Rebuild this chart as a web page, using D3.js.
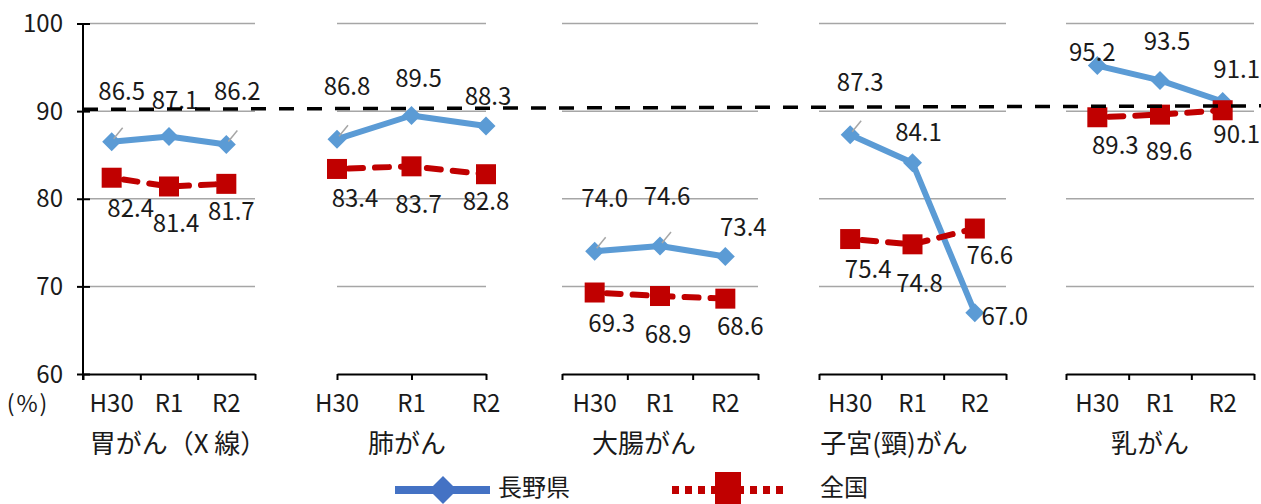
<!DOCTYPE html>
<html lang="ja">
<head>
<meta charset="utf-8">
<script src="https://cdn.jsdelivr.net/npm/d3@7"></script>
<style>
  html, body { margin: 0; padding: 0; background: #fff; }
  svg { display: block; }
  text { font-family: "Noto Sans CJK JP", "Noto Sans", sans-serif; fill: #1a1a1a; }
</style>
</head>
<body>
<svg id="chart" width="1261" height="504"></svg>
<script>
// 受診率（%）: 年度別・がん種別
const years = ["H30", "R1", "R2"];
const cancers = ["胃がん（X 線）", "肺がん", "大腸がん", "子宮(頸)がん", "乳がん"];
const seriesNames = ["長野県", "全国"];
const nagano = [
  [86.5, 87.1, 86.2],
  [86.8, 89.5, 88.3],
  [74.0, 74.6, 73.4],
  [87.3, 84.1, 67.0],
  [95.2, 93.5, 91.1]
];
const national = [
  [82.4, 81.4, 81.7],
  [83.4, 83.7, 82.8],
  [69.3, 68.9, 68.6],
  [75.4, 74.8, 76.6],
  [89.3, 89.6, 90.1]
];
const yTicks = [60, 70, 80, 90, 100];
const gridValues = [70, 80, 90, 100];
// 目標ライン（左端・右端の値）
const targetLine = [90.2, 90.6];

// ---- layout ----
const W = 1261;
const yAxisX = 83;
const panelSpans = [[83, 255], [337, 486], [562, 758], [819, 1006], [1066, 1254]];
const panelOnTicks = [false, true, false, false, false];
const gridStarts = [90, 337, 562, 819, 1066];
const titleX = [178, 407, 644, 894, 1150];
const titleBaseline = 453;
const catBaseline = 412;
// data label offsets from each marker: [dx, baseline dy]
const naganoLabelOffsets = [
  [[10, -42], [6, -28], [11, -44]],
  [[10, -44], [7, -29], [2, -21]],
  [[10, -44], [7, -41], [18, -21]],
  [[10, -44], [6, -22], [30, 12]],
  [[-5, -5], [7, -30], [14, -23]]
];
const nationalLabelOffsets = [
  [[19, 39], [7, 46], [5, 36]],
  [[18, 38], [7, 47], [0, 36]],
  [[17, 39], [8, 47], [15, 36]],
  [[18, 39], [7, 48], [15, 35]],
  [[18, 37], [9, 45], [14, 33]]
];
const naganoLeaders = [
  [true, false, true],
  [true, false, false],
  [true, true, false],
  [true, false, false],
  [false, false, false]
];

const BLUE = "#5B9BD5";
const BLUE_LEGEND = "#4472C4";
const RED = "#C00000";
const GRID = "#A6A6A6";

const svg = d3.select("#chart");

const y = d3.scaleLinear().domain([60, 100]).range([374, 23.5]);

const gGrid = svg.append("g");
const gAxes = svg.append("g");
const gSeries = svg.append("g");
const gLabels = svg.append("g");
const gTop = svg.append("g");

// ---- Y axis ----
const yAxis = d3.axisLeft(y).tickValues(yTicks).tickSizeInner(6).tickSizeOuter(0).tickPadding(14);
const ya = gAxes.append("g").attr("transform", `translate(${yAxisX},0)`).call(yAxis);
ya.select(".domain").attr("stroke", "#000").attr("stroke-width", 2).attr("d", `M0,${y(100)}V${y(60) + 6}`);
ya.selectAll(".tick line").attr("stroke", "#000").attr("stroke-width", 2).attr("x1", -6).attr("x2", 7);
ya.selectAll(".tick text").attr("font-size", 24).attr("fill", "#1a1a1a")
  .attr("font-family", '"Noto Sans CJK JP", sans-serif').attr("dy", "0.34em");

svg.append("text").attr("x", 28).attr("y", catBaseline).attr("text-anchor", "middle")
  .attr("font-size", 23).attr("letter-spacing", 2).text("(%)");

// ---- panels ----
const lineGen = d3.line();

cancers.forEach((name, p) => {
  const [x0, x1] = panelSpans[p];
  let xPos, tickScale, tickVals;
  if (panelOnTicks[p]) {
    const xs = d3.scalePoint().domain(years).range([x0, x1]);
    xPos = d => xs(d);
    tickScale = xs;
    tickVals = years;
  } else {
    const xs = d3.scaleBand().domain(years).range([x0, x1]).padding(0);
    xPos = d => xs(d) + xs.bandwidth() / 2;
    tickScale = d3.scaleLinear().domain([0, years.length]).range([x0, x1]);
    tickVals = d3.range(years.length + 1);
  }

  // gridlines
  gGrid.selectAll(null).data(gridValues).join("line")
    .attr("x1", gridStarts[p]).attr("x2", x1)
    .attr("y1", d => y(d)).attr("y2", d => y(d))
    .attr("stroke", GRID).attr("stroke-width", 1.5);

  // category axis
  const xAxis = d3.axisBottom(tickScale).tickValues(tickVals).tickFormat("").tickSizeInner(6).tickSizeOuter(0);
  const xa = gAxes.append("g").attr("transform", `translate(0,${y(60)})`).call(xAxis);
  xa.select(".domain").attr("stroke", "#000").attr("stroke-width", 2);
  xa.selectAll(".tick line").attr("stroke", "#000").attr("stroke-width", 2);

  gAxes.selectAll(null).data(years).join("text")
    .attr("x", d => xPos(d)).attr("y", catBaseline)
    .attr("text-anchor", "middle").attr("font-size", 24).text(d => d);

  gAxes.append("text").attr("x", titleX[p]).attr("y", titleBaseline)
    .attr("text-anchor", "middle").attr("font-size", 26).text(name);

  // 長野県
  const ptsN = years.map((yr, i) => [xPos(yr), y(nagano[p][i])]);
  gSeries.append("path").attr("d", lineGen(ptsN)).attr("fill", "none")
    .attr("stroke", BLUE).attr("stroke-width", 6).attr("stroke-linejoin", "round");
  gSeries.selectAll(null).data(ptsN).join("path")
    .attr("d", d => `M${d[0]},${d[1] - 9.5}L${d[0] + 9.5},${d[1]}L${d[0]},${d[1] + 9.5}L${d[0] - 9.5},${d[1]}Z`)
    .attr("fill", BLUE);
  ptsN.forEach((pt, i) => {
    if (naganoLeaders[p][i]) {
      gSeries.append("line").attr("x1", pt[0] + 2).attr("y1", pt[1] - 3)
        .attr("x2", pt[0] + 11).attr("y2", pt[1] - 14)
        .attr("stroke", GRID).attr("stroke-width", 1.5);
    }
  });

  // 全国
  const ptsA = years.map((yr, i) => [xPos(yr), y(national[p][i])]);
  gSeries.append("path").attr("d", lineGen(ptsA)).attr("fill", "none")
    .attr("stroke", RED).attr("stroke-width", 6).attr("stroke-linecap", "round")
    .attr("stroke-dasharray", "14,12").attr("stroke-dashoffset", -12);
  gSeries.selectAll(null).data(ptsA).join("rect")
    .attr("x", d => d[0] - 10).attr("y", d => d[1] - 10)
    .attr("width", 20).attr("height", 20).attr("fill", RED);

  // data labels
  gLabels.selectAll(null).data(ptsN).join("text")
    .attr("x", (d, i) => d[0] + naganoLabelOffsets[p][i][0])
    .attr("y", (d, i) => d[1] + naganoLabelOffsets[p][i][1])
    .attr("text-anchor", "middle").attr("font-size", 24)
    .text((d, i) => nagano[p][i].toFixed(1));
  gLabels.selectAll(null).data(ptsA).join("text")
    .attr("x", (d, i) => d[0] + nationalLabelOffsets[p][i][0])
    .attr("y", (d, i) => d[1] + nationalLabelOffsets[p][i][1])
    .attr("text-anchor", "middle").attr("font-size", 24)
    .text((d, i) => national[p][i].toFixed(1));
});

// 目標ライン
gTop.append("line")
  .attr("x1", yAxisX).attr("x2", W)
  .attr("y1", y(targetLine[0])).attr("y2", y(targetLine[1]))
  .attr("stroke", "#000").attr("stroke-width", 3.5).attr("stroke-dasharray", "15,13");

// ---- legend ----
const lg = svg.append("g");
const ly = 490;
lg.append("line").attr("x1", 395).attr("x2", 490).attr("y1", ly).attr("y2", ly)
  .attr("stroke", BLUE_LEGEND).attr("stroke-width", 8);
lg.append("path").attr("d", `M443,${ly - 14}L457,${ly}L443,${ly + 14}L429,${ly}Z`).attr("fill", BLUE_LEGEND);
lg.append("text").attr("x", 498).attr("y", 496).attr("font-size", 24).text(seriesNames[0]);

lg.append("line").attr("x1", 672).attr("x2", 784).attr("y1", ly).attr("y2", ly)
  .attr("stroke", RED).attr("stroke-width", 8).attr("stroke-dasharray", "7,6");
lg.append("rect").attr("x", 715).attr("y", 472).attr("width", 26).attr("height", 32).attr("fill", RED);
lg.append("text").attr("x", 820).attr("y", 496).attr("font-size", 24).text(seriesNames[1]);
</script>
</body>
</html>
